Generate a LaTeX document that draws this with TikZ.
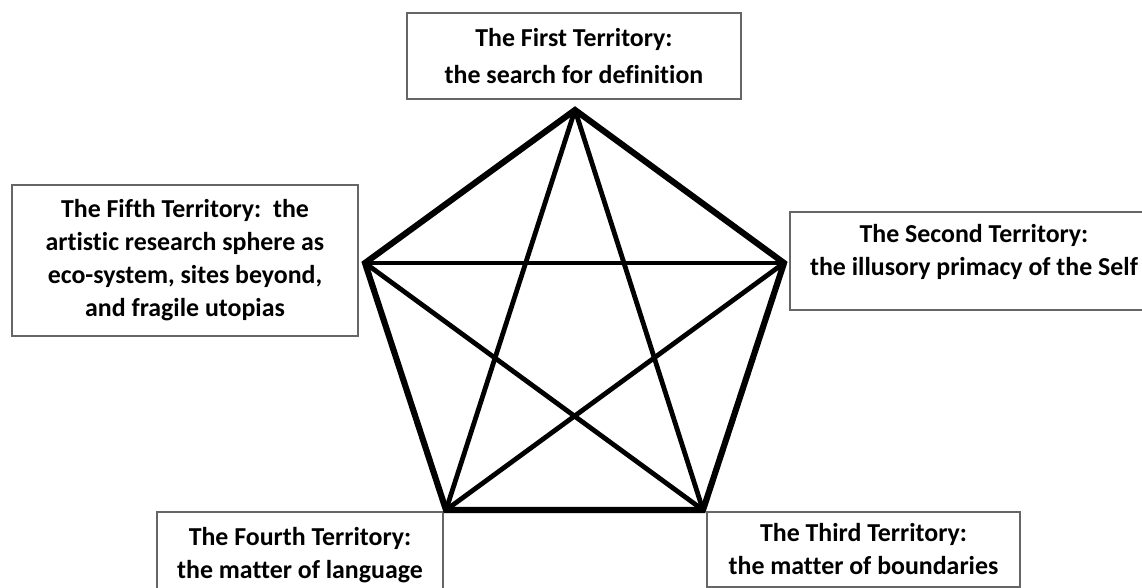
\documentclass[tikz,border=0pt]{standalone}
\usepackage{fontspec}
\setmainfont[Ligatures=NoCommon]{Carlito}
\tikzset{x=0.75pt, y=-0.75pt,
    every node/.append style={font=\fontsize{19.4}{24.75}\selectfont\bfseries},
    territory/.style={draw=black!60, line width=1.1pt, align=center, inner sep=0pt},
    rim/.style={line width=4.6pt, line join=miter},
    chord/.style={line width=3.6pt}}

\begin{document}
\begin{tikzpicture}
    \useasboundingbox (0,0) rectangle (1142,588);
    \clip (0,0) rectangle (1142,588);
    % the five territories
    \node (first) [territory, minimum width=250.5pt, minimum height=64.5pt] at (574,56)
        {The First Territory:\\[3pt]the search for definition};
    \node (second) [territory, minimum width=276pt, minimum height=73.5pt] at (974,261)
        {The Second Territory:\\the illusory primacy of the Self\rule[-17pt]{0pt}{17pt}};
    \node (third) [territory, minimum width=234.75pt, minimum height=56.25pt] at (863.5,549.5)
        {The Third Territory:\\the matter of boundaries};
    \node (fourth) [territory, minimum width=214.5pt, minimum height=64.5pt] at (300,555)
        {The Fourth Territory:\\the matter of language};
    \node (fifth) [territory, minimum width=259.5pt, minimum height=113.25pt] at (185,260.5)
        {The Fifth Territory:\ \ the\\artistic research sphere as\\eco-system, sites beyond,\\and fragile utopias};
    % pentagon corners
    \coordinate (v1) at (575,110);
    \coordinate (v2) at (784,263);
    \coordinate (v3) at (703,510);
    \coordinate (v4) at (446,510);
    \coordinate (v5) at (365,263);
    \draw[rim] (v1) -- (v2) -- (v3) -- (v4) -- (v5) -- cycle;
    \foreach \a/\b in {v1/v3, v3/v5, v5/v2, v2/v4, v4/v1}
        \draw[chord] (\a) -- (\b);
\end{tikzpicture}
\end{document}
